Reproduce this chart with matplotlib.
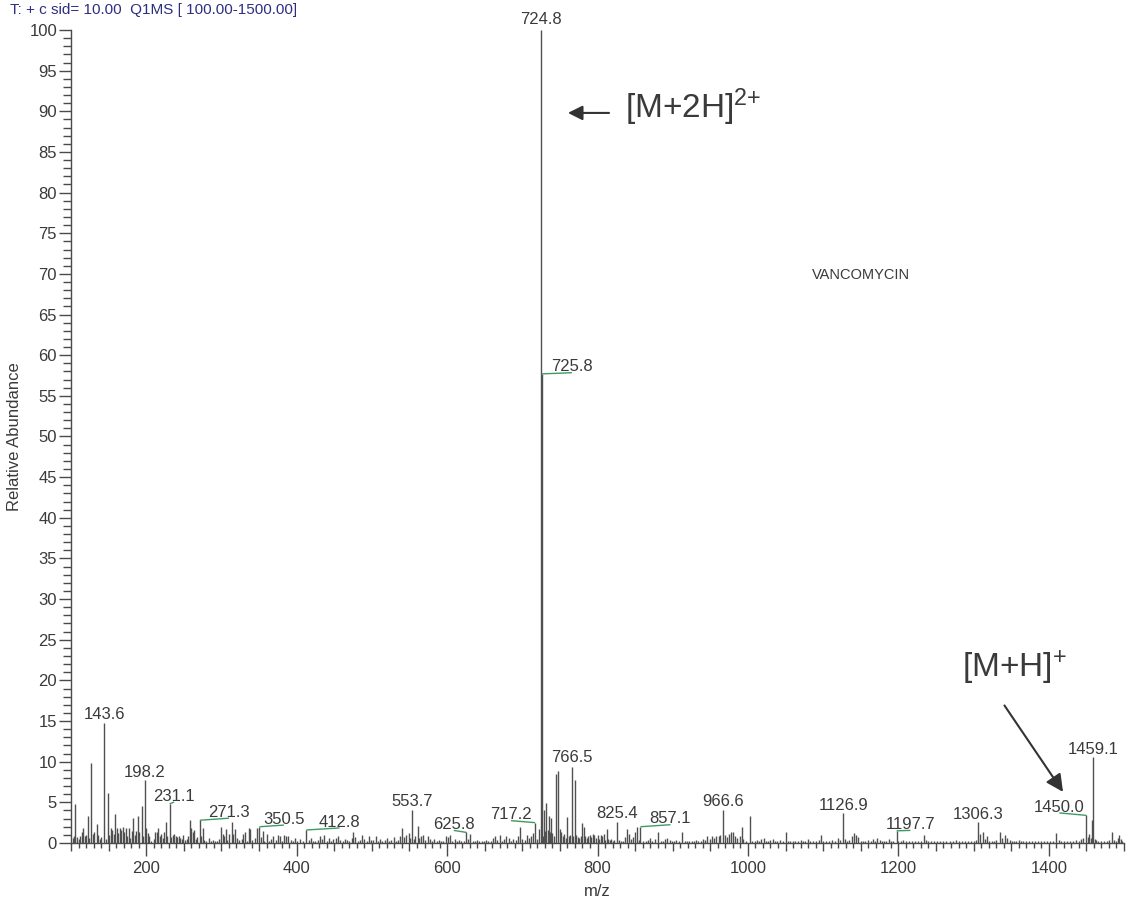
#!/usr/bin/env python3

import matplotlib
matplotlib.use('Agg')
import matplotlib.pyplot as plt
from matplotlib.ticker import MultipleLocator, FuncFormatter

# ---- spectrum data (m/z, relative abundance) ----
sticks_100_300 = [
    (102, 0.6), (104, 0.9), (105.9, 4.8), (108, 0.7), (110, 0.5), (112, 0.9),
    (114, 1.3), (116, 1.8), (118, 0.8), (120, 1.0), (122, 3.3), (124, 0.6),
    (127, 9.8), (129, 1.1), (131, 1.4), (134, 2.3), (136, 1.0), (138, 0.5),
    (140, 0.7), (143.6, 14.8), (146, 0.5), (149, 6.1), (151, 1.0), (153, 1.9),
    (155, 1.6), (157, 1.1), (159, 3.6), (161, 1.9), (163, 1.2), (165, 1.9),
    (167, 1.6), (169, 2.0), (171, 1.3), (173, 1.8), (175, 0.9), (177, 1.9),
    (179, 0.6), (181, 1.5), (183, 3.1), (185, 1.0), (187, 1.5), (189, 3.3),
    (191, 1.3), (194, 4.5), (196, 0.8), (198.2, 7.7), (200, 1.8), (202, 1.2),
    (204, 0.9), (206, 0.3), (210, 0.5), (212, 1.4), (214, 1.3), (216, 1.8),
    (218, 0.9), (220, 1.1), (222, 0.6), (224, 1.3), (226, 2.6), (228, 0.8),
    (231.1, 4.8), (233, 0.7), (235, 1.0), (237, 1.1), (239, 0.9), (241, 0.7),
    (243, 0.8), (245, 0.6), (247, 0.5), (249, 1.0), (251, 0.4), (254, 0.5),
    (256, 0.8), (258, 2.8), (260, 1.8), (262, 1.3), (264, 1.6), (266, 0.5),
    (268, 0.7), (271.3, 2.8), (273, 0.8), (275, 1.8), (277, 0.4), (280, 0.2),
    (283, 0.6), (286, 0.3), (289, 0.4), (291, 0.2), (294, 0.3), (297, 0.5),
]
sticks_300_500 = [
    (300, 2.0), (302, 1.1), (304, 0.9), (306, 1.7), (308, 0.4), (310, 1.1),
    (314, 2.6), (316, 1.1), (318, 1.7), (321, 0.6), (324, 0.4), (327, 0.5),
    (329, 1.1), (331, 1.3), (334, 0.3), (336, 1.8), (338, 1.7), (341, 0.4),
    (344, 0.6), (347, 1.9), (350.5, 2.0), (353, 0.7), (355, 1.5), (357, 0.3),
    (360, 1.1), (363, 0.3), (366, 0.5), (369, 0.9), (372, 0.4), (375, 1.0),
    (378, 0.8), (381, 0.3), (383, 1.0), (386, 0.9), (389, 0.8), (392, 0.4),
    (395, 0.2), (398, 0.6), (401, 0.3), (404, 0.5), (408, 0.3), (412.8, 1.6),
    (416, 0.4), (419, 0.6), (422, 0.3), (425, 0.3), (428, 0.4), (431, 0.9),
    (434, 0.5), (437, 1.0), (440, 0.3), (443, 0.6), (446, 0.2), (449, 0.5),
    (452, 0.6), (455, 0.9), (458, 0.4), (461, 0.3), (464, 0.5), (467, 0.4),
    (470, 0.3), (473, 0.6), (475, 1.4), (478, 0.7), (481, 0.3), (484, 0.4),
    (487, 1.0), (490, 0.5), (493, 0.3), (496, 0.8), (499, 0.4),
]
sticks_500_700 = [
    (502, 0.4), (505, 0.9), (508, 0.3), (511, 0.5), (514, 0.2), (517, 0.4),
    (520, 0.6), (523, 0.3), (526, 0.4), (529, 0.7), (532, 0.3), (535, 0.4),
    (538, 0.9), (540, 1.8), (543, 0.7), (546, 1.0), (549, 1.2), (551, 0.6),
    (553.7, 4.1), (556, 0.5), (558, 0.9), (561, 2.1), (563, 0.6), (566, 0.8),
    (568, 1.0), (571, 0.4), (574, 0.9), (577, 0.5), (580, 0.3), (583, 0.5),
    (586, 0.2), (589, 0.4), (592, 0.3), (595, 0.2), (598, 0.8), (601, 0.7),
    (604, 1.0), (607, 0.3), (610, 0.5), (613, 0.2), (616, 0.4), (619, 0.2),
    (622, 0.3), (625.8, 1.3), (628, 0.5), (631, 1.1), (634, 0.3), (637, 0.2),
    (640, 0.4), (643, 0.3), (646, 0.2), (649, 0.3), (652, 0.4), (655, 0.2),
    (658, 0.3), (661, 0.6), (664, 0.8), (667, 0.4), (670, 1.0), (673, 0.3),
    (676, 0.5), (679, 0.8), (682, 0.6), (685, 0.3), (688, 0.5), (691, 0.4),
    (694, 0.9), (697, 2.0),
]
sticks_700_900 = [
    (700, 0.5), (703, 0.4), (706, 1.0), (709, 0.6), (711, 0.9), (714, 1.2),
    (717.2, 2.5), (719, 0.5), (722, 1.7), (724.8, 100.0), (725.8, 57.7),
    (727, 0.8), (729, 4.0), (730, 1.5), (732, 4.9), (734, 1.6), (736, 3.3),
    (737, 1.4), (738.5, 3.1), (740, 1.2), (742, 0.9), (744.6, 8.5),
    (747, 8.9), (749.7, 1.7), (752, 1.3), (754, 0.8), (756, 1.1), (758, 0.6),
    (760, 3.2), (762, 0.9), (764, 1.0), (766.5, 9.4), (768, 0.9),
    (770.5, 7.7), (772, 1.0), (774, 0.7), (776, 0.6), (778, 0.9),
    (779.6, 2.5), (782, 2.0), (784, 0.8), (786, 0.6), (788, 0.9), (790, 1.0),
    (792, 0.7), (794, 1.1), (796, 1.0), (798, 0.6), (800, 1.0), (802, 0.5),
    (804, 1.0), (806, 0.9), (808, 1.1), (810, 0.4), (812, 1.7), (814, 0.5),
    (816, 0.4), (818, 0.5), (820, 0.3), (822, 0.4), (825.4, 2.6), (828, 0.4),
    (831, 0.2), (834, 0.3), (837, 0.7), (839.6, 1.7), (842, 1.1), (845, 0.5),
    (847, 0.7), (850, 1.3), (853, 2.0), (855, 0.4), (857.1, 2.0), (861, 0.3),
    (864, 0.2), (867, 0.4), (870, 0.6), (873, 0.3), (876, 0.5), (880.8, 1.4),
    (884, 0.3), (887, 0.2), (890, 0.5), (893, 0.6), (896, 0.4), (899, 0.3),
]
sticks_900_1100 = [
    (902, 0.2), (905, 0.4), (908, 0.3), (912.7, 1.3), (916, 0.3), (919, 0.2),
    (922, 0.3), (925, 0.2), (928, 0.3), (931, 0.4), (934, 0.2), (937, 0.2),
    (940, 0.5), (943, 0.4), (946, 0.8), (949, 0.5), (952, 0.9), (955, 0.6),
    (958, 0.9), (961, 0.9), (963, 1.0), (966.6, 4.1), (969, 1.0), (972, 0.7),
    (975, 1.1), (978, 1.3), (980, 1.4), (983, 0.9), (986, 0.6), (989, 0.8),
    (991.6, 2.0), (994, 0.5), (997, 0.3), (1002.7, 3.3), (1006, 0.3),
    (1009, 0.2), (1012, 0.4), (1015, 0.3), (1018, 0.5), (1021, 0.6),
    (1024, 0.3), (1027, 0.2), (1030, 0.4), (1033, 0.5), (1036, 0.3),
    (1039, 0.2), (1042, 0.4), (1046, 0.3), (1050, 1.3), (1053, 0.3),
    (1056, 0.2), (1060, 0.3), (1063, 0.2), (1066, 0.3), (1070, 0.4),
    (1073, 0.2), (1076, 0.3), (1080, 0.5), (1083, 0.2), (1086, 0.3),
    (1090, 0.2), (1094, 0.4), (1097, 1.0),
]
sticks_1100_1300 = [
    (1100, 0.3), (1104, 0.2), (1108, 0.3), (1112, 0.4), (1116, 0.3),
    (1120, 0.6), (1123, 0.4), (1126.9, 3.7), (1129, 0.5), (1132, 0.3),
    (1135, 0.4), (1138, 0.9), (1141, 1.2), (1144, 1.0), (1147, 0.7),
    (1150, 0.3), (1153, 0.2), (1156, 0.3), (1160, 0.4), (1163, 0.2),
    (1166, 0.5), (1169, 0.3), (1172, 0.6), (1175, 0.4), (1178, 0.3),
    (1181, 0.2), (1184, 0.3), (1187, 0.5), (1190, 0.3), (1193, 0.2),
    (1197.7, 1.5), (1200, 0.3), (1203, 0.2), (1206, 0.4), (1210, 0.3),
    (1214, 0.2), (1218, 0.3), (1222, 0.2), (1226, 0.3), (1230, 0.2),
    (1234, 1.0), (1237, 0.4), (1240, 0.3), (1244, 0.2), (1248, 0.3),
    (1252, 0.2), (1256, 0.3), (1260, 0.2), (1264, 0.3), (1268, 0.2),
    (1272, 0.3), (1276, 0.4), (1280, 0.2), (1284, 0.3), (1288, 0.2),
    (1292, 0.3), (1296, 0.2),
]
sticks_1300_1500 = [
    (1300, 0.3), (1303, 0.4), (1306.3, 2.6), (1309, 1.1), (1312, 1.4),
    (1315, 0.5), (1318, 0.8), (1321, 0.3), (1324, 0.2), (1327, 0.3),
    (1330, 0.4), (1335, 1.3), (1338, 0.6), (1342, 1.0), (1345, 0.6),
    (1348, 0.4), (1351, 0.3), (1354, 0.2), (1357, 0.3), (1360, 0.4),
    (1363, 0.2), (1366, 0.3), (1370, 0.2), (1374, 0.3), (1378, 0.2),
    (1382, 0.3), (1386, 0.2), (1390, 0.3), (1394, 0.2), (1398, 0.3),
    (1402, 0.2), (1406, 0.3), (1410, 1.2), (1413, 0.4), (1416, 0.3),
    (1420, 0.2), (1424, 0.3), (1428, 0.2), (1432, 0.3), (1436, 0.4),
    (1440, 0.3), (1443, 0.5), (1446, 0.6), (1450.0, 3.4), (1452, 0.7),
    (1454, 1.1), (1456, 0.6), (1457, 2.8), (1459.1, 10.6), (1461, 0.5),
    (1463, 0.4), (1466, 0.3), (1470, 0.2), (1474, 0.3), (1477, 0.2),
    (1480, 0.4), (1484, 1.4), (1487, 0.4), (1490, 0.3), (1492, 0.6),
    (1494, 1.0), (1496, 0.5), (1498, 0.3),
]

# labelled peaks: text, peak m/z, peak height
label_text = ['143.6', '198.2', '231.1', '271.3', '350.5', '412.8', '553.7',
              '625.8', '717.2', '724.8', '725.8', '766.5', '825.4', '857.1',
              '966.6', '1126.9', '1197.7', '1306.3', '1450.0', '1459.1']
label_peak_mz = [143.6, 198.2, 231.1, 271.3, 350.5, 412.8, 553.7, 625.8,
                 717.2, 724.8, 725.8, 766.5, 825.4, 857.1, 966.6, 1126.9,
                 1197.7, 1306.3, 1450.0, 1459.1]
label_peak_h = [14.8, 7.7, 4.8, 2.8, 2.0, 1.6, 4.1, 1.3, 2.5, 100.0, 57.7,
                9.4, 2.6, 2.0, 4.1, 3.7, 1.5, 2.6, 3.4, 10.6]

# where the label sits (text centre m/z, baseline) - layout only
label_pos_x = [144.7, 198.2, 237, 310, 383, 457, 553.7, 609, 685, 724.8,
               766, 766.5, 825.4, 897, 966.6, 1126.9, 1216, 1306.3, 1414,
               1459.1]
label_pos_y = [15.2, 8.1, 5.2, 3.2, 2.35, 2.0, 4.5, 1.7, 2.9, 100.7, 58.0,
               10.0, 3.1, 2.4, 4.5, 4.1, 1.7, 3.0, 3.85, 11.0]

x_min, x_max = 100, 1500
header = 'T: + c sid= 10.00  Q1MS [ 100.00-1500.00]'

plt.rcParams['font.family'] = ['Liberation Sans', 'DejaVu Sans']
plt.rcParams['mathtext.fontset'] = 'custom'
plt.rcParams['mathtext.rm'] = 'Liberation Sans'
plt.rcParams['mathtext.it'] = 'Liberation Sans'

text_col = '#3a3a3a'
axis_col = '#4a4a4a'

fig = plt.figure(figsize=(11.28, 9.0), dpi=100)
ax = fig.add_axes([71 / 1128, 57 / 900, 1053 / 1128, 813 / 900])

all_sticks = (sticks_100_300 + sticks_300_500 + sticks_500_700 +
              sticks_700_900 + sticks_900_1100 + sticks_1100_1300 +
              sticks_1300_1500)
mz = [p[0] for p in all_sticks]
ab = [p[1] for p in all_sticks]
ax.vlines(mz, 0, ab, colors='#505050', lw=1.0)

# peak labels, with the green leader lines for the shifted ones
for txt, px, ph, lx, ly in zip(label_text, label_peak_mz, label_peak_h,
                               label_pos_x, label_pos_y):
    ax.text(lx, ly, txt, ha='center', va='baseline', fontsize=12,
            color=text_col)
    if abs(lx - px) > 3:
        ax.plot([px, lx], [ph, ly - 0.15], color='#3f9a62', lw=1.0,
                solid_capstyle='butt')

# ion annotations
ax.text(836, 89.2, '[M+2H]$^{2{+}}$', fontsize=24, color=text_col,
        ha='left', va='baseline')
ax.annotate('', xy=(757, 89.8), xytext=(819, 89.8),
            arrowprops=dict(arrowstyle='-|>', color='#333333', lw=1.5,
                            mutation_scale=22))
ax.text(1285, 20.4, '[M+H]$^{{+}}$', fontsize=24, color=text_col,
        ha='left', va='baseline')
ax.annotate('', xy=(1421, 6.0), xytext=(1339, 17.2),
            arrowprops=dict(arrowstyle='-|>', color='#333333', lw=1.5,
                            mutation_scale=26))
ax.text(1085, 69.9, 'VANCOMYCIN', fontsize=10.5, color=text_col,
        ha='left', va='center')

# instrument header line (cut off at the very top in the reference)
fig.text(10 / 1128, 1 - 14 / 900, header, fontsize=11, color='#2e2e80',
         ha='left', va='baseline')

# axes styling
ax.set_xlim(x_min, x_max)
ax.set_ylim(0, 100)
for s in ['top', 'right']:
    ax.spines[s].set_visible(False)
for s in ['left', 'bottom']:
    ax.spines[s].set_color(axis_col)
    ax.spines[s].set_linewidth(1.0)

ax.yaxis.set_major_locator(MultipleLocator(5))
ax.yaxis.set_minor_locator(MultipleLocator(1))
ax.xaxis.set_major_locator(MultipleLocator(200))
ax.xaxis.set_minor_locator(MultipleLocator(10))
ax.xaxis.set_major_formatter(FuncFormatter(lambda v, p: '%d' % v))

ax.tick_params(axis='y', which='major', length=9, width=1, color=axis_col,
               labelsize=12, labelcolor=text_col, pad=1)
ax.tick_params(axis='y', which='minor', length=5.5, width=1, color=axis_col)
ax.tick_params(axis='x', which='major', length=9, width=1, color=axis_col,
               labelsize=12, labelcolor=text_col, pad=4)
ax.tick_params(axis='x', which='minor', length=3.5, width=1, color=axis_col)

# medium ticks every 50 on the m/z axis
minor_locs = ax.xaxis.get_minorticklocs()
for loc, tk in zip(minor_locs, ax.xaxis.get_minor_ticks(len(minor_locs))):
    if round(loc) % 50 == 0:
        tk.tick1line.set_markersize(6)

ax.set_xlabel('m/z', fontsize=12, color=text_col, labelpad=6)
ax.set_ylabel('Relative Abundance', fontsize=12, color=text_col, labelpad=5)

fig.savefig('out.png', dpi=100)
